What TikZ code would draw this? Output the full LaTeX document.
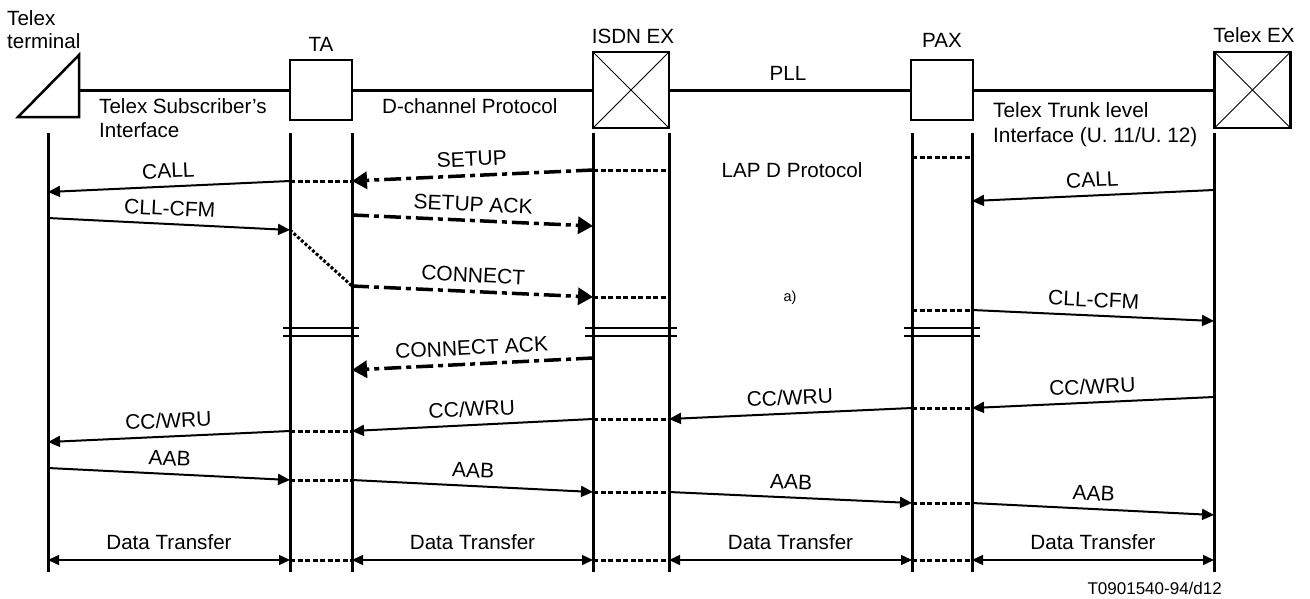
\documentclass[tikz,border=0pt]{standalone}
\usepackage{fontspec}
\setmainfont{Liberation Sans}
\usetikzlibrary{arrows.meta,calc}
\begin{document}
\begin{tikzpicture}[x=1pt,y=-1pt,
  font=\fontsize{20.6}{24}\selectfont,
  lifeline/.style={line width=3pt},
  link/.style={line width=3pt},
  boxn/.style={draw,line width=2.5pt,minimum width=62pt,minimum height=60pt,inner sep=0pt,outer sep=0pt},
  xbox/.style={draw,line width=2.5pt,minimum width=76pt,minimum height=76pt,inner sep=0pt,outer sep=0pt},
  msg/.style={line width=2pt,-{Triangle[length=12pt,width=11pt]}},
  dmsg/.style={line width=3.5pt,dash pattern=on 17pt off 5pt on 5pt off 5pt,-{Triangle[length=15pt,width=17pt]}},
  innerl/.style={line width=3pt,dash pattern=on 5pt off 2.5pt},
  xfer/.style={line width=1.5pt,{Triangle[length=11pt,width=10pt]}-{Triangle[length=11pt,width=10pt]}},
  brk/.style={line width=2.5pt},
  lbl/.style={midway,sloped,above=7.5pt,inner sep=0pt,text depth=0pt,font=\fontsize{21}{24}\selectfont},
  dlbl/.style={midway,above=10pt,inner sep=0pt,text depth=0pt},
  txt/.style={inner sep=0pt},
]
\useasboundingbox (0,0) rectangle (1310,598);

% entities
\draw[line width=2.5pt,line join=miter] (18,117) -- (79,117) -- (79,55) -- cycle;
\coordinate (term) at (79,90);
\node[boxn] (ta) at (321,90) {};
\node[xbox] (isdn) at (631,90) {};
\node[boxn] (pax) at (942,90) {};
\node[xbox] (tex) at (1252.5,90) {};
\draw[line width=0.8pt] (isdn.north west) -- (isdn.south east) (isdn.north east) -- (isdn.south west);
\draw[line width=0.8pt] (tex.north west) -- (tex.south east) (tex.north east) -- (tex.south west);

\draw[link] (term) -- (ta.west);
\draw[link] (ta.east) -- (isdn.west);
\draw[link] (isdn.east) -- (pax.west);
\draw[link] (pax.east) -- (tex.west);

% titles
\node[txt,anchor=north west,align=left,font=\fontsize{20.6}{23}\selectfont] (ttl) at (7,10.5) {Telex\\terminal};
\node[txt,anchor=base] (tal) at (321,51) {TA};
\node[txt,anchor=base] (isl) at (633,43) {ISDN EX};
\node[txt,anchor=base] (pal) at (942,47) {PAX};
\node[txt,anchor=base] (tel) at (1254,42) {Telex EX};
\node[txt,anchor=base] (pll) at (788,80) {PLL};
\node[txt,anchor=north west,align=left] (tsi) at (99,98) {Telex Subscriber's\\Interface};
\node[txt,anchor=base west] (dcp) at (382,113) {D-channel Protocol};
\node[txt,anchor=north west,align=left,font=\fontsize{20.8}{25}\selectfont] (tti) at (993,102) {Telex Trunk level\\Interface (U. 11/U. 12)};
\node[txt,anchor=base] (lap) at (792,177) {LAP D Protocol};
\node[txt,anchor=base,font=\fontsize{14.5}{16}\selectfont] (na) at (790,301) {a)};
\node[txt,anchor=base east,font=\fontsize{17}{19}\selectfont] (ref) at (1222,594) {T0901540-94/d12};

% lifelines
\coordinate (lT) at (48,133);
\coordinate (lTA) at (290,133);
\coordinate (lTB) at (352,133);
\coordinate (lIA) at (593,133);
\coordinate (lIB) at (669,133);
\coordinate (lPA) at (912,133);
\coordinate (lPB) at (972,133);
\coordinate (lE) at (1214,133);
\foreach \n in {lT,lTA,lTB,lIA,lIB,lPA,lPB,lE}
  \draw[lifeline] (\n) -- (\n |- 0,572);

% break marks
\foreach \a/\b/\d in {lTA/lTB/7,lIA/lIB/8,lPA/lPB/8}{
  \draw[brk] ($(\a |- 0,328)+(-\d,0)$) -- ($(\b |- 0,328)+(\d,0)$);
  \draw[brk] ($(\a |- 0,336)+(-\d,0)$) -- ($(\b |- 0,336)+(\d,0)$);
}

% internal dotted segments
\draw[innerl] (lIA |- 0,170) -- (lIB |- 0,170);
\draw[innerl] (lTA |- 0,181) -- (lTB |- 0,181);
\draw[innerl] (lPA |- 0,157) -- (lPB |- 0,157);
\draw[line width=3pt,dash pattern=on 3pt off 2pt] (lTA |- 0,230) -- (lTB |- 0,286);
\draw[innerl] (lIA |- 0,297) -- (lIB |- 0,297);
\draw[innerl] (lPA |- 0,310) -- (lPB |- 0,310);
\draw[innerl] (lPA |- 0,408) -- (lPB |- 0,408);
\draw[innerl] (lIA |- 0,419) -- (lIB |- 0,419);
\draw[innerl] (lTA |- 0,431) -- (lTB |- 0,431);
\draw[innerl] (lTA |- 0,480) -- (lTB |- 0,480);
\draw[innerl] (lIA |- 0,492) -- (lIB |- 0,492);
\draw[innerl] (lPA |- 0,503) -- (lPB |- 0,503);
\draw[innerl] (lTA |- 0,560) -- (lTB |- 0,560);
\draw[innerl] (lIA |- 0,560) -- (lIB |- 0,560);
\draw[innerl] (lPA |- 0,560) -- (lPB |- 0,560);

% messages
\draw[dmsg] (lIA |- 0,170) -- node[lbl]{SETUP} (lTB |- 0,181);
\draw[msg] (lTA |- 0,181) -- node[lbl]{CALL} (lT |- 0,192);
\draw[msg] (lE |- 0,190) -- node[lbl]{CALL} (lPB |- 0,201);
\draw[msg] (lT |- 0,218) -- node[lbl]{CLL-CFM} (lTA |- 0,230);
\draw[dmsg] (lTB |- 0,215) -- node[lbl]{SETUP ACK} (lIA |- 0,226);
\draw[dmsg] (lTB |- 0,286) -- node[lbl]{CONNECT} (lIA |- 0,297);
\draw[msg] (lPB |- 0,310) -- node[lbl]{CLL-CFM} (lE |- 0,321);
\draw[dmsg] (lIA |- 0,358) -- node[lbl]{CONNECT ACK} (lTB |- 0,370);
\draw[msg] (lE |- 0,397) -- node[lbl]{CC/WRU} (lPB |- 0,408);
\draw[msg] (lPA |- 0,408) -- node[lbl]{CC/WRU} (lIB |- 0,419);
\draw[msg] (lIA |- 0,419) -- node[lbl]{CC/WRU} (lTB |- 0,431);
\draw[msg] (lTA |- 0,431) -- node[lbl]{CC/WRU} (lT |- 0,442);
\draw[msg] (lT |- 0,468) -- node[lbl]{AAB} (lTA |- 0,480);
\draw[msg] (lTB |- 0,480) -- node[lbl]{AAB} (lIA |- 0,492);
\draw[msg] (lIB |- 0,492) -- node[lbl]{AAB} (lPA |- 0,503);
\draw[msg] (lPB |- 0,503) -- node[lbl]{AAB} (lE |- 0,515);

% data transfer
\draw[xfer] (lT |- 0,560) -- node[dlbl]{Data Transfer} (lTA |- 0,560);
\draw[xfer] (lTB |- 0,560) -- node[dlbl]{Data Transfer} (lIA |- 0,560);
\draw[xfer] (lIB |- 0,560) -- node[dlbl]{Data Transfer} (lPA |- 0,560);
\draw[xfer] (lPB |- 0,560) -- node[dlbl]{Data Transfer} (lE |- 0,560);
\end{tikzpicture}
\end{document}
